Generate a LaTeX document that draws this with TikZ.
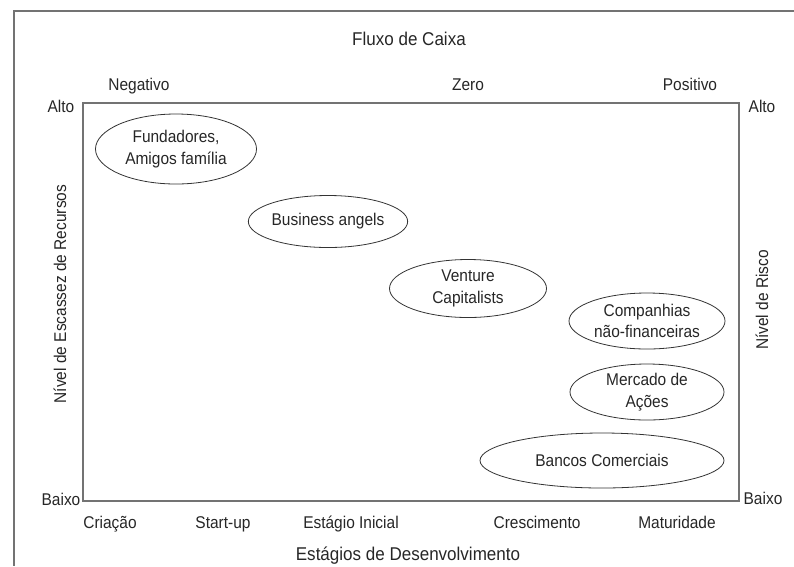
\documentclass[tikz,border=0pt]{standalone}
\usepackage{fontspec}
\setmainfont{Liberation Sans}
\usetikzlibrary{shapes.geometric}
\newcommand{\cond}[1]{\scalebox{0.91}[1]{#1}}
\newcommand{\condb}[1]{\scalebox{0.92}[1]{#1}}
\begin{document}
\begin{tikzpicture}[x=1pt,y=-1pt,
  frame/.style={draw=black!55,line width=1.6pt},
  lbl/.style={font=\fontsize{17}{20}\selectfont,inner sep=0pt,anchor=base,text=black!85},
  big/.style={font=\fontsize{18.5}{22}\selectfont,inner sep=0pt,anchor=base,text=black!85},
  oval/.style={draw=black!80,line width=0.8pt,ellipse,inner sep=0pt,align=center,text=black!85,font=\fontsize{17}{21.5}\selectfont}]
\useasboundingbox (0,0) rectangle (794,566);
\draw[frame] (794,11) -- (14,11) -- (14,566);
\draw[frame] (83,103) rectangle (739,501);
\node[big] (title) at (409,45) {\condb{Fluxo de Caixa}};
\node[lbl] (neg) at (139,90) {\cond{Negativo}};
\node[lbl] (zero) at (468,90) {\cond{Zero}};
\node[lbl] (pos) at (690,90) {\cond{Positivo}};
\node[lbl] (altoL) at (61,112) {\cond{Alto}};
\node[lbl] (altoR) at (762,112) {\cond{Alto}};
\node[lbl] (baixoL) at (61,505) {\cond{Baixo}};
\node[lbl] (baixoR) at (763,504) {\cond{Baixo}};
\node[lbl] (c1) at (110,528) {\cond{Criação}};
\node[lbl] (c2) at (223,528) {\cond{Start-up}};
\node[lbl] (c3) at (351,528) {\cond{Estágio Inicial}};
\node[lbl] (c4) at (537,528) {\cond{Crescimento}};
\node[lbl] (c5) at (677,528) {\cond{Maturidade}};
\node[big] (xlab) at (408,560) {\condb{Estágios de Desenvolvimento}};
\node[lbl,anchor=center,rotate=90] (ylabL) at (60,294) {\cond{Nível de Escassez de Recursos}};
\node[lbl,anchor=center,rotate=90] (ylabR) at (762,300) {\cond{Nível de Risco}};
\node[oval,minimum width=161pt,minimum height=70pt] (fund) at (176,149) {\cond{Fundadores,}\\\cond{Amigos família}};
\node[oval,minimum width=150pt,minimum height=52pt] (ba) at (328,221.5) {\cond{Business angels}};
\node[oval,minimum width=157pt,minimum height=58pt] (vc) at (468,288.5) {\cond{Venture}\\\cond{Capitalists}};
\node[oval,minimum width=156pt,minimum height=56pt] (cnf) at (647,321) {\cond{Companhias}\\\cond{não-financeiras}};
\node[oval,minimum width=154pt,minimum height=56pt] (ma) at (647,392) {\cond{Mercado de}\\\cond{Ações}};
\node[oval,minimum width=244pt,minimum height=55pt] (bc) at (602,460.5) {\cond{Bancos Comerciais}};
\end{tikzpicture}
\end{document}
